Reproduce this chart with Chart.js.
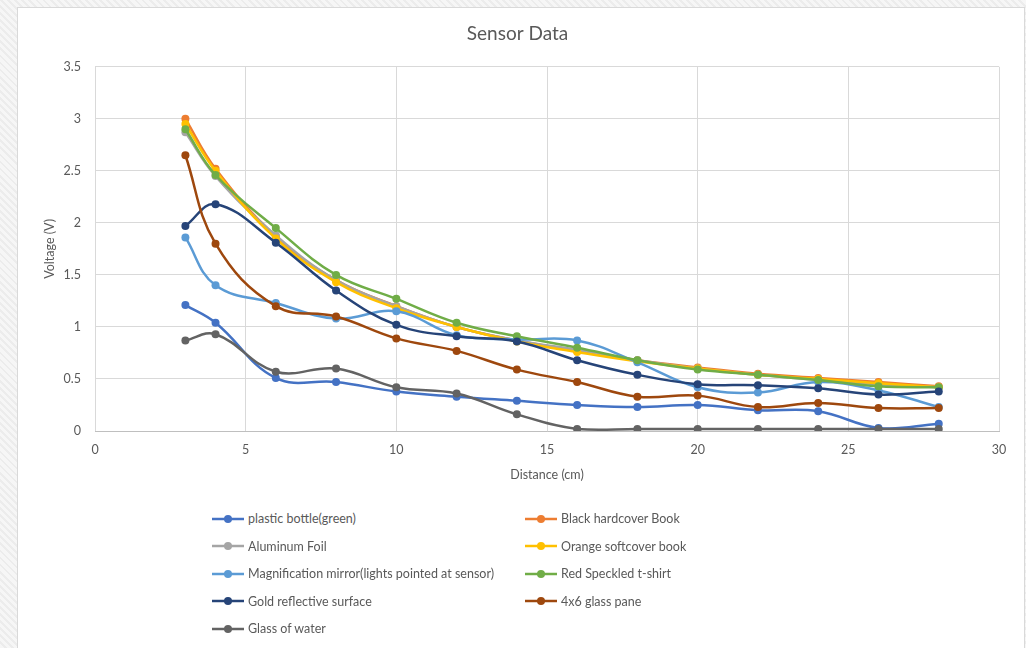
<!DOCTYPE html>
<html>
<head>
<meta charset="utf-8">
<title>Sensor Data</title>
<script src="https://cdn.jsdelivr.net/npm/chart.js@4.4.1/dist/chart.umd.min.js"></script>
<style>
    html, body {
        margin: 0;
        padding: 0;
        width: 1026px;
        height: 648px;
        overflow: hidden;
        background: repeating-linear-gradient(45deg, #f6f6f6 0 3px, #ececec 3px 5px);
        font-family: Lato, "Open Sans", sans-serif;
    }
    .card {
        position: absolute;
        left: 17px;
        top: 7px;
        width: 1006px;
        height: 660px;
        background: #fff;
        border: 1px solid #d9d9d9;
    }
    #chartWrap {
        position: absolute;
        left: -18px;
        top: -8px;
        width: 1026px;
        height: 495px;
    }
    .legend {
        position: absolute;
        left: 193px;
        top: 497px;
        display: grid;
        grid-template-columns: 313px 300px;
        grid-auto-rows: 27.5px;
        grid-auto-flow: row;
        font-size: 12.5px;
        color: #595959;
    }
    .legend-item {
        display: flex;
        align-items: center;
        white-space: nowrap;
    }
    .legend-item canvas {
        margin-right: 3px;
    }
</style>
</head>
<body>
<div class="card">
    <div id="chartWrap"><canvas id="sensorChart" width="1026" height="495"></canvas></div>
    <div class="legend" id="legend"></div>
</div>
<script>
// -- Data --
const distances = [3, 4, 6, 8, 10, 12, 14, 16, 18, 20, 22, 24, 26, 28];

const plasticBottle   = [1.21, 1.04, 0.51, 0.47, 0.38, 0.33, 0.29, 0.25, 0.23, 0.25, 0.20, 0.19, 0.03, 0.07];
const blackHardcover  = [3.00, 2.52, 1.87, 1.45, 1.20, 1.00, 0.87, 0.77, 0.68, 0.61, 0.55, 0.51, 0.47, 0.43];
const aluminumFoil    = [2.87, 2.45, 1.88, 1.45, 1.20, 1.00, 0.87, 0.78, 0.68, 0.60, 0.54, 0.49, 0.45, 0.42];
const orangeSoftcover = [2.95, 2.50, 1.85, 1.43, 1.18, 1.00, 0.86, 0.76, 0.67, 0.60, 0.54, 0.50, 0.46, 0.42];
const magMirror       = [1.86, 1.40, 1.23, 1.08, 1.15, 0.92, 0.88, 0.87, 0.66, 0.42, 0.37, 0.47, 0.39, 0.23];
const redTshirt       = [2.90, 2.46, 1.95, 1.50, 1.27, 1.04, 0.91, 0.80, 0.68, 0.59, 0.54, 0.49, 0.43, 0.42];
const goldSurface     = [1.97, 2.18, 1.81, 1.35, 1.02, 0.91, 0.86, 0.68, 0.54, 0.45, 0.44, 0.41, 0.35, 0.38];
const glassPane       = [2.65, 1.80, 1.20, 1.10, 0.89, 0.77, 0.59, 0.47, 0.33, 0.34, 0.23, 0.27, 0.22, 0.22];
const glassOfWater    = [0.87, 0.93, 0.57, 0.60, 0.42, 0.36, 0.16, 0.02, 0.02, 0.02, 0.02, 0.02, 0.02, 0.02];

const seriesNames = [
    'plastic bottle(green)',
    'Black hardcover Book',
    'Aluminum Foil',
    'Orange softcover book',
    'Magnification mirror(lights pointed at sensor)',
    'Red Speckled t-shirt',
    'Gold reflective surface',
    '4x6 glass pane',
    'Glass of water'
];
const seriesValues = [plasticBottle, blackHardcover, aluminumFoil, orangeSoftcover, magMirror, redTshirt, goldSurface, glassPane, glassOfWater];
const seriesColors = ['#4472C4', '#ED7D31', '#A5A5A5', '#FFC000', '#5B9BD5', '#70AD47', '#264478', '#9E480E', '#636363'];

const xTicks = [0, 5, 10, 15, 20, 25, 30];
const yTicks = [0, 0.5, 1, 1.5, 2, 2.5, 3, 3.5];

const textColor = '#595959';
const gridColor = '#d9d9d9';

// -- Build datasets (later series drawn on top, like Excel) --
const datasets = seriesNames.map((name, i) => ({
    label: name,
    data: distances.map((d, j) => ({ x: d, y: seriesValues[i][j] })),
    borderColor: seriesColors[i],
    backgroundColor: seriesColors[i],
    borderWidth: 2.5,
    pointRadius: 4,
    pointHoverRadius: 4,
    pointBorderWidth: 0,
    tension: 0.4,
    fill: false,
    order: seriesNames.length - i
}));

const ctx = document.getElementById('sensorChart').getContext('2d');
new Chart(ctx, {
    type: 'line',
    data: { datasets: datasets },
    options: {
        responsive: false,
        animation: false,
        layout: {
            padding: { top: 0, left: 36, right: 27, bottom: 4 }
        },
        scales: {
            x: {
                type: 'linear',
                min: 0,
                max: 30,
                afterBuildTicks: (scale) => { scale.ticks = xTicks.map(v => ({ value: v })); },
                afterFit: (scale) => { scale.height = 60; },
                grid: { color: gridColor, drawTicks: false },
                border: { color: '#bfbfbf' },
                ticks: {
                    color: textColor,
                    font: { family: 'Lato', size: 12.5 },
                    padding: 11,
                    callback: (v) => String(v)
                },
                title: {
                    display: true,
                    text: 'Distance (cm)',
                    color: textColor,
                    font: { family: 'Lato', size: 12.5 },
                    padding: { top: 0, bottom: 9 }
                }
            },
            y: {
                min: 0,
                max: 3.5,
                afterBuildTicks: (scale) => { scale.ticks = yTicks.map(v => ({ value: v })); },
                afterFit: (scale) => { scale.width = 95 - 36; },
                grid: { color: gridColor, drawTicks: false },
                border: { display: false },
                ticks: {
                    color: textColor,
                    font: { family: 'Lato', size: 12.5 },
                    padding: 14,
                    callback: (v) => String(v)
                },
                title: {
                    display: true,
                    text: 'Voltage (V)',
                    color: textColor,
                    font: { family: 'Lato', size: 12.5 },
                    padding: { top: 6, bottom: 0 }
                }
            }
        },
        plugins: {
            legend: { display: false },
            tooltip: { enabled: false },
            title: {
                display: true,
                text: 'Sensor Data',
                color: textColor,
                font: { family: 'Lato', size: 19, weight: 'normal' },
                padding: { top: 22, bottom: 22 }
            }
        }
    }
});

// -- Legend (two columns, Excel style) --
const legendEl = document.getElementById('legend');
const half = Math.ceil(seriesNames.length / 2);
const order = [];
for (let r = 0; r < half; r++) {
    order.push(r * 2);
    if (r * 2 + 1 < seriesNames.length) order.push(r * 2 + 1);
}
order.forEach(i => {
    const item = document.createElement('div');
    item.className = 'legend-item';
    const icon = document.createElement('canvas');
    icon.width = 34;
    icon.height = 12;
    const ic = icon.getContext('2d');
    ic.strokeStyle = seriesColors[i];
    ic.lineWidth = 2.5;
    ic.beginPath();
    ic.moveTo(1, 6);
    ic.lineTo(33, 6);
    ic.stroke();
    ic.fillStyle = seriesColors[i];
    ic.beginPath();
    ic.arc(17, 6, 4, 0, Math.PI * 2);
    ic.fill();
    const label = document.createElement('span');
    label.textContent = seriesNames[i];
    item.appendChild(icon);
    item.appendChild(label);
    legendEl.appendChild(item);
});
</script>
</body>
</html>
